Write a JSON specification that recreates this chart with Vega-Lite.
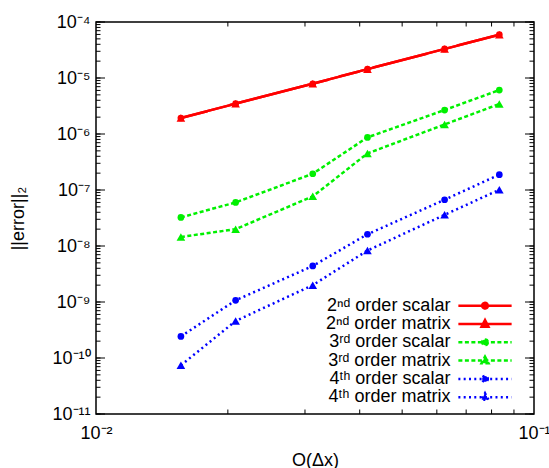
{
  "$schema": "https://vega.github.io/schema/vega-lite/v6.json",
  "width": 438,
  "height": 392,
  "autosize": {"type": "none"},
  "padding": {"left": 96, "top": 22, "right": 15, "bottom": 54},
  "background": "white",
  "config": {
    "view": {"stroke": "black", "strokeWidth": 1.5},
    "font": "Liberation Sans",
    "axis": {
      "domain": false, "ticks": false, "grid": false,
      "labelFont": "Liberation Sans", "labelFontSize": 18, "labelColor": "black",
      "titleFont": "Liberation Sans", "titleFontSize": 18, "titleFontWeight": "normal", "titleColor": "black",
      "labelOverlap": false, "labelFlush": false, "labelBound": false
    }
  },
  "resolve": {"axis": {"x": "independent", "y": "independent"}},
  "datasets": {
    "yminor": [
      {"v":1e-11},{"v":2e-11},{"v":3e-11},{"v":4e-11},{"v":5e-11},{"v":6e-11},{"v":7e-11},{"v":8e-11},{"v":9e-11},
      {"v":1e-10},{"v":2e-10},{"v":3e-10},{"v":4e-10},{"v":5e-10},{"v":6e-10},{"v":7e-10},{"v":8e-10},{"v":9e-10},
      {"v":1e-9},{"v":2e-9},{"v":3e-9},{"v":4e-9},{"v":5e-9},{"v":6e-9},{"v":7e-9},{"v":8e-9},{"v":9e-9},
      {"v":1e-8},{"v":2e-8},{"v":3e-8},{"v":4e-8},{"v":5e-8},{"v":6e-8},{"v":7e-8},{"v":8e-8},{"v":9e-8},
      {"v":1e-7},{"v":2e-7},{"v":3e-7},{"v":4e-7},{"v":5e-7},{"v":6e-7},{"v":7e-7},{"v":8e-7},{"v":9e-7},
      {"v":1e-6},{"v":2e-6},{"v":3e-6},{"v":4e-6},{"v":5e-6},{"v":6e-6},{"v":7e-6},{"v":8e-6},{"v":9e-6},
      {"v":1e-5},{"v":2e-5},{"v":3e-5},{"v":4e-5},{"v":5e-5},{"v":6e-5},{"v":7e-5},{"v":8e-5},{"v":9e-5},
      {"v":1e-4}
    ],
    "ymajor": [{"v":1e-11},{"v":1e-10},{"v":1e-9},{"v":1e-8},{"v":1e-7},{"v":1e-6},{"v":1e-5},{"v":1e-4}],
    "xminor": [{"v":0.02},{"v":0.03},{"v":0.04},{"v":0.05},{"v":0.06},{"v":0.07},{"v":0.08},{"v":0.09}],
    "errors": [
      {"series": "2ⁿᵈ order scalar", "kind": "scalar", "dx": 0.015625, "err": 1.93e-6},
      {"series": "2ⁿᵈ order scalar", "kind": "scalar", "dx": 0.0208333, "err": 3.48e-6},
      {"series": "2ⁿᵈ order scalar", "kind": "scalar", "dx": 0.03125, "err": 7.9e-6},
      {"series": "2ⁿᵈ order scalar", "kind": "scalar", "dx": 0.0416667, "err": 1.44e-5},
      {"series": "2ⁿᵈ order scalar", "kind": "scalar", "dx": 0.0625, "err": 3.3e-5},
      {"series": "2ⁿᵈ order scalar", "kind": "scalar", "dx": 0.0833333, "err": 5.93e-5},
      {"series": "2ⁿᵈ order matrix", "kind": "matrix", "dx": 0.015625, "err": 1.93e-6},
      {"series": "2ⁿᵈ order matrix", "kind": "matrix", "dx": 0.0208333, "err": 3.48e-6},
      {"series": "2ⁿᵈ order matrix", "kind": "matrix", "dx": 0.03125, "err": 7.9e-6},
      {"series": "2ⁿᵈ order matrix", "kind": "matrix", "dx": 0.0416667, "err": 1.44e-5},
      {"series": "2ⁿᵈ order matrix", "kind": "matrix", "dx": 0.0625, "err": 3.3e-5},
      {"series": "2ⁿᵈ order matrix", "kind": "matrix", "dx": 0.0833333, "err": 5.93e-5},
      {"series": "3ʳᵈ order scalar", "kind": "scalar", "dx": 0.015625, "err": 3.24e-8},
      {"series": "3ʳᵈ order scalar", "kind": "scalar", "dx": 0.0208333, "err": 6.0e-8},
      {"series": "3ʳᵈ order scalar", "kind": "scalar", "dx": 0.03125, "err": 1.95e-7},
      {"series": "3ʳᵈ order scalar", "kind": "scalar", "dx": 0.0416667, "err": 8.7e-7},
      {"series": "3ʳᵈ order scalar", "kind": "scalar", "dx": 0.0625, "err": 2.68e-6},
      {"series": "3ʳᵈ order scalar", "kind": "scalar", "dx": 0.0833333, "err": 6.1e-6},
      {"series": "3ʳᵈ order matrix", "kind": "matrix", "dx": 0.015625, "err": 1.45e-8},
      {"series": "3ʳᵈ order matrix", "kind": "matrix", "dx": 0.0208333, "err": 2.0e-8},
      {"series": "3ʳᵈ order matrix", "kind": "matrix", "dx": 0.03125, "err": 7.7e-8},
      {"series": "3ʳᵈ order matrix", "kind": "matrix", "dx": 0.0416667, "err": 4.5e-7},
      {"series": "3ʳᵈ order matrix", "kind": "matrix", "dx": 0.0625, "err": 1.48e-6},
      {"series": "3ʳᵈ order matrix", "kind": "matrix", "dx": 0.0833333, "err": 3.43e-6},
      {"series": "4ᵗʰ order scalar", "kind": "scalar", "dx": 0.015625, "err": 2.43e-10},
      {"series": "4ᵗʰ order scalar", "kind": "scalar", "dx": 0.0208333, "err": 1.07e-9},
      {"series": "4ᵗʰ order scalar", "kind": "scalar", "dx": 0.03125, "err": 4.4e-9},
      {"series": "4ᵗʰ order scalar", "kind": "scalar", "dx": 0.0416667, "err": 1.62e-8},
      {"series": "4ᵗʰ order scalar", "kind": "scalar", "dx": 0.0625, "err": 6.7e-8},
      {"series": "4ᵗʰ order scalar", "kind": "scalar", "dx": 0.0833333, "err": 1.88e-7},
      {"series": "4ᵗʰ order matrix", "kind": "matrix", "dx": 0.015625, "err": 7.4e-11},
      {"series": "4ᵗʰ order matrix", "kind": "matrix", "dx": 0.0208333, "err": 4.58e-10},
      {"series": "4ᵗʰ order matrix", "kind": "matrix", "dx": 0.03125, "err": 2.0e-9},
      {"series": "4ᵗʰ order matrix", "kind": "matrix", "dx": 0.0416667, "err": 8.3e-9},
      {"series": "4ᵗʰ order matrix", "kind": "matrix", "dx": 0.0625, "err": 3.6e-8},
      {"series": "4ᵗʰ order matrix", "kind": "matrix", "dx": 0.0833333, "err": 1.01e-7}
    ]
  },
  "data": {"name": "errors"},
  "layer": [
    {
      "transform": [{"filter": "datum.err < 0"}],
      "mark": {"type": "point", "filled": true, "opacity": 1, "size": 225, "strokeWidth": 2.5},
      "encoding": {
        "x": {"field": "dx", "type": "quantitative",
          "scale": {"type": "log", "domain": [0.01, 0.1], "nice": false},
          "axis": {"orient": "bottom", "title": "O(Δx)", "values": [0.01, 0.1],
            "labelExpr": "'10⁻' + substring('⁰¹²³⁴⁵⁶⁷⁸⁹', round(-log(datum.value)/LN10), round(-log(datum.value)/LN10) + 1)",
            "labelPadding": 10, "titlePadding": 9}},
        "y": {"field": "err", "type": "quantitative",
          "scale": {"type": "log", "domain": [1e-11, 1e-4], "nice": false},
          "axis": {"orient": "left", "title": "||error||₂",
            "values": [1e-11,1e-10,1e-9,1e-8,1e-7,1e-6,1e-5,1e-4],
            "labelExpr": "'10⁻' + (round(-log(datum.value)/LN10) >= 10 ? '¹' + substring('⁰¹²³⁴⁵⁶⁷⁸⁹', round(-log(datum.value)/LN10) - 10, round(-log(datum.value)/LN10) - 9) : substring('⁰¹²³⁴⁵⁶⁷⁸⁹', round(-log(datum.value)/LN10), round(-log(datum.value)/LN10) + 1))",
            "labelPadding": 6, "titlePadding": 24}},
        "color": {"field": "series", "type": "nominal",
          "scale": {"domain": ["2ⁿᵈ order scalar","2ⁿᵈ order matrix","3ʳᵈ order scalar","3ʳᵈ order matrix","4ᵗʰ order scalar","4ᵗʰ order matrix"],
                    "range": ["#ff0000","#ff0000","#00f000","#00f000","#0000ff","#0000ff"]},
          "legend": {"orient": "none", "legendX": 380, "legendY": 274.7, "title": null,
            "labelAlign": "right", "labelOffset": -43.6,
            "labelFont": "Liberation Sans", "labelFontSize": 18, "labelColor": "black", "labelLimit": 0,
            "symbolSize": 225, "symbolStrokeWidth": 2.5, "rowPadding": 0.3, "padding": 0}},
        "stroke": {"field": "series", "type": "nominal",
          "scale": {"domain": ["2ⁿᵈ order scalar","2ⁿᵈ order matrix","3ʳᵈ order scalar","3ʳᵈ order matrix","4ᵗʰ order scalar","4ᵗʰ order matrix"],
                    "range": ["#ff0000","#ff0000","#00f000","#00f000","#0000ff","#0000ff"]},
          "legend": {"orient": "none", "legendX": 380, "legendY": 274.7, "title": null,
            "labelAlign": "right", "labelOffset": -43.6,
            "labelFont": "Liberation Sans", "labelFontSize": 18, "labelColor": "black", "labelLimit": 0,
            "symbolSize": 225, "symbolStrokeWidth": 2.5, "rowPadding": 0.3, "padding": 0}},
        "shape": {"field": "series", "type": "nominal",
          "scale": {"domain": ["2ⁿᵈ order scalar","2ⁿᵈ order matrix","3ʳᵈ order scalar","3ʳᵈ order matrix","4ᵗʰ order scalar","4ᵗʰ order matrix"],
                    "range": [
                      "M-3.55,0H3.55M0.38,0A0.38,0.38,0,1,1,-0.38,0A0.38,0.38,0,1,1,0.38,0Z",
                      "M-3.55,0H3.55M0,-0.53L0.46,0.35L-0.46,0.35Z",
                      "M-3.55,0H3.55M0.38,0A0.38,0.38,0,1,1,-0.38,0A0.38,0.38,0,1,1,0.38,0Z",
                      "M-3.55,0H3.55M0,-0.53L0.46,0.35L-0.46,0.35Z",
                      "M-3.55,0H3.55M0.38,0A0.38,0.38,0,1,1,-0.38,0A0.38,0.38,0,1,1,0.38,0Z",
                      "M-3.55,0H3.55M0,-0.53L0.46,0.35L-0.46,0.35Z"]},
          "legend": {"orient": "none", "legendX": 380, "legendY": 274.7, "title": null,
            "labelAlign": "right", "labelOffset": -43.6,
            "labelFont": "Liberation Sans", "labelFontSize": 18, "labelColor": "black", "labelLimit": 0,
            "symbolSize": 225, "symbolStrokeWidth": 2.5, "rowPadding": 0.3, "padding": 0}},
        "strokeDash": {"field": "series", "type": "nominal",
          "scale": {"domain": ["2ⁿᵈ order scalar","2ⁿᵈ order matrix","3ʳᵈ order scalar","3ʳᵈ order matrix","4ᵗʰ order scalar","4ᵗʰ order matrix"],
                    "range": [[1,0],[1,0],[4,2.5],[4,2.5],[2,3.3],[2,3.3]]},
          "legend": {"orient": "none", "legendX": 380, "legendY": 274.7, "title": null,
            "labelAlign": "right", "labelOffset": -43.6,
            "labelFont": "Liberation Sans", "labelFontSize": 18, "labelColor": "black", "labelLimit": 0,
            "symbolSize": 225, "symbolStrokeWidth": 2.5, "rowPadding": 0.3, "padding": 0}}
      }
    },
    {
      "mark": {"type": "line", "strokeWidth": 2.5, "clip": true},
      "encoding": {
        "x": {"field": "dx", "type": "quantitative", "axis": null},
        "y": {"field": "err", "type": "quantitative", "axis": null},
        "color": {"field": "series", "type": "nominal"},
        "strokeDash": {"field": "series", "type": "nominal"}
      }
    },
    {
      "transform": [{"filter": "datum.kind == 'scalar'"}],
      "mark": {"type": "point", "shape": "circle", "filled": true, "opacity": 1, "size": 45},
      "encoding": {
        "x": {"field": "dx", "type": "quantitative", "axis": null},
        "y": {"field": "err", "type": "quantitative", "axis": null},
        "color": {"field": "series", "type": "nominal"}
      }
    },
    {
      "transform": [{"filter": "datum.kind == 'matrix'"}],
      "mark": {"type": "point", "shape": "triangle-up", "filled": true, "opacity": 1, "size": 75},
      "encoding": {
        "x": {"field": "dx", "type": "quantitative", "axis": null},
        "y": {"field": "err", "type": "quantitative", "axis": null},
        "color": {"field": "series", "type": "nominal"}
      }
    },
    {
      "data": {"name": "yminor"},
      "mark": {"type": "tick", "orient": "horizontal", "size": 4.5, "thickness": 1, "color": "black", "opacity": 1, "xOffset": 2.25},
      "encoding": {
        "x": {"datum": 0.01, "type": "quantitative", "axis": null},
        "y": {"field": "v", "type": "quantitative", "axis": null}
      }
    },
    {
      "data": {"name": "yminor"},
      "mark": {"type": "tick", "orient": "horizontal", "size": 4.5, "thickness": 1, "color": "black", "opacity": 1, "xOffset": -2.25},
      "encoding": {
        "x": {"datum": 0.1, "type": "quantitative", "axis": null},
        "y": {"field": "v", "type": "quantitative", "axis": null}
      }
    },
    {
      "data": {"name": "ymajor"},
      "mark": {"type": "tick", "orient": "horizontal", "size": 9, "thickness": 1, "color": "black", "opacity": 1, "xOffset": 4.5},
      "encoding": {
        "x": {"datum": 0.01, "type": "quantitative", "axis": null},
        "y": {"field": "v", "type": "quantitative", "axis": null}
      }
    },
    {
      "data": {"name": "ymajor"},
      "mark": {"type": "tick", "orient": "horizontal", "size": 9, "thickness": 1, "color": "black", "opacity": 1, "xOffset": -4.5},
      "encoding": {
        "x": {"datum": 0.1, "type": "quantitative", "axis": null},
        "y": {"field": "v", "type": "quantitative", "axis": null}
      }
    },
    {
      "data": {"name": "xminor"},
      "mark": {"type": "tick", "orient": "vertical", "size": 4.5, "thickness": 1, "color": "black", "opacity": 1, "yOffset": -2.25},
      "encoding": {
        "x": {"field": "v", "type": "quantitative", "axis": null},
        "y": {"datum": 1e-11, "type": "quantitative", "axis": null}
      }
    },
    {
      "data": {"name": "xminor"},
      "mark": {"type": "tick", "orient": "vertical", "size": 4.5, "thickness": 1, "color": "black", "opacity": 1, "yOffset": 2.25},
      "encoding": {
        "x": {"field": "v", "type": "quantitative", "axis": null},
        "y": {"datum": 1e-4, "type": "quantitative", "axis": null}
      }
    }
  ]
}
